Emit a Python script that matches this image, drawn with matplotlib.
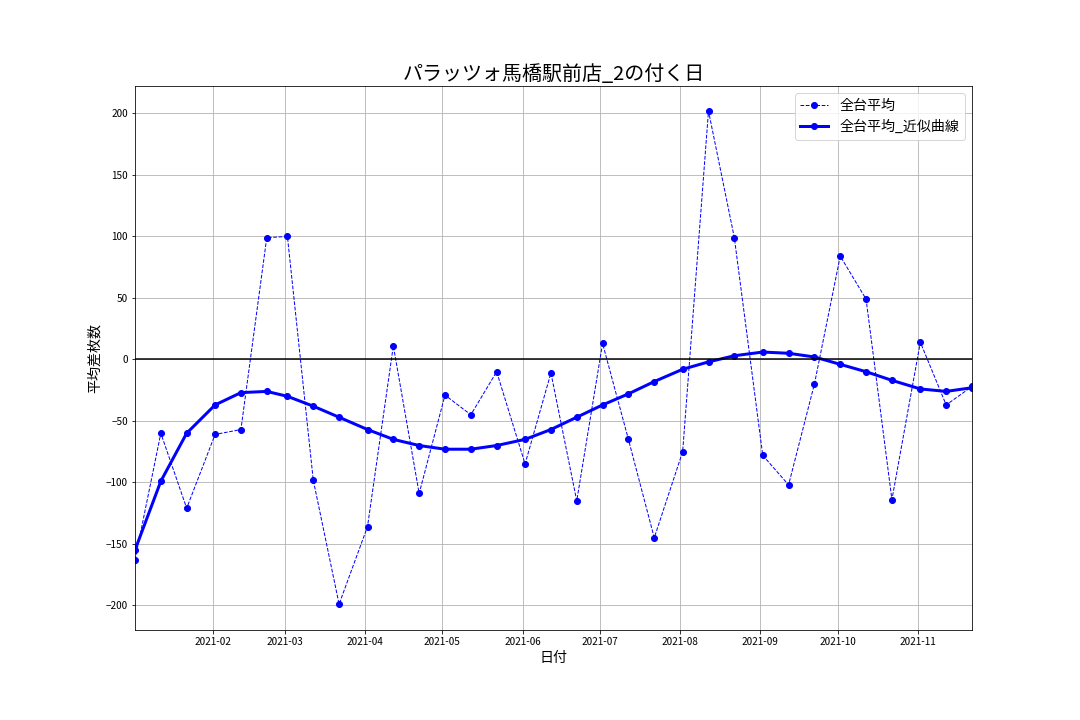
import pandas as pd
import matplotlib
matplotlib.use("Agg")
import matplotlib.pyplot as plt

plt.rcParams['font.family'] = ['Noto Sans CJK JP', 'DejaVu Sans']

dates = pd.to_datetime([
    "2021-01-02", "2021-01-12", "2021-01-22", "2021-02-02", "2021-02-12", "2021-02-22",
    "2021-03-02", "2021-03-12", "2021-03-22", "2021-04-02", "2021-04-12", "2021-04-22",
    "2021-05-02", "2021-05-12", "2021-05-22", "2021-06-02", "2021-06-12", "2021-06-22",
    "2021-07-02", "2021-07-12", "2021-07-22", "2021-08-02", "2021-08-12", "2021-08-22",
    "2021-09-02", "2021-09-12", "2021-09-22", "2021-10-02", "2021-10-12", "2021-10-22",
    "2021-11-02", "2021-11-12", "2021-11-22",
])

avg_diff = [-163, -60, -121, -61, -57, 99, 100, -98, -199, -136, 11, -109,
            -29, -45, -10, -85, -11, -115, 13, -65, -145, -75, 202, 99,
            -78, -102, -20, 84, 49, -114, 14, -37, -22]

avg_fit = [-155, -99, -60, -37, -27, -26, -30, -38, -47, -57, -65, -70,
           -73, -73, -70, -65, -57, -47, -37, -28, -18, -8, -2, 3,
           6, 5, 2, -4, -10, -17, -24, -26, -23]

fig, ax = plt.subplots(figsize=(15, 10), dpi=72)
fig.subplots_adjust(left=0.125, right=0.9, bottom=0.125, top=0.88)

ax.plot(dates, avg_diff, color='blue', linestyle='--', linewidth=1, marker='o', markersize=6, label='全台平均')
ax.plot(dates, avg_fit, color='blue', linestyle='-', linewidth=3, marker='o', markersize=6, label='全台平均_近似曲線')
ax.axhline(0, color='black', linewidth=1.5)

ax.set_xlim(dates[0], dates[-1])
ax.set_ylim(-220, 222)
ax.grid(True)
ax.tick_params(labelsize=10)
ax.set_title('パラッツォ馬橋駅前店_2の付く日', fontsize=20)
ax.set_xlabel('日付', fontsize=14)
ax.set_ylabel('平均差枚数', fontsize=14)
ax.legend(fontsize=14, loc='upper right')

fig.savefig('out.png', dpi=72)
